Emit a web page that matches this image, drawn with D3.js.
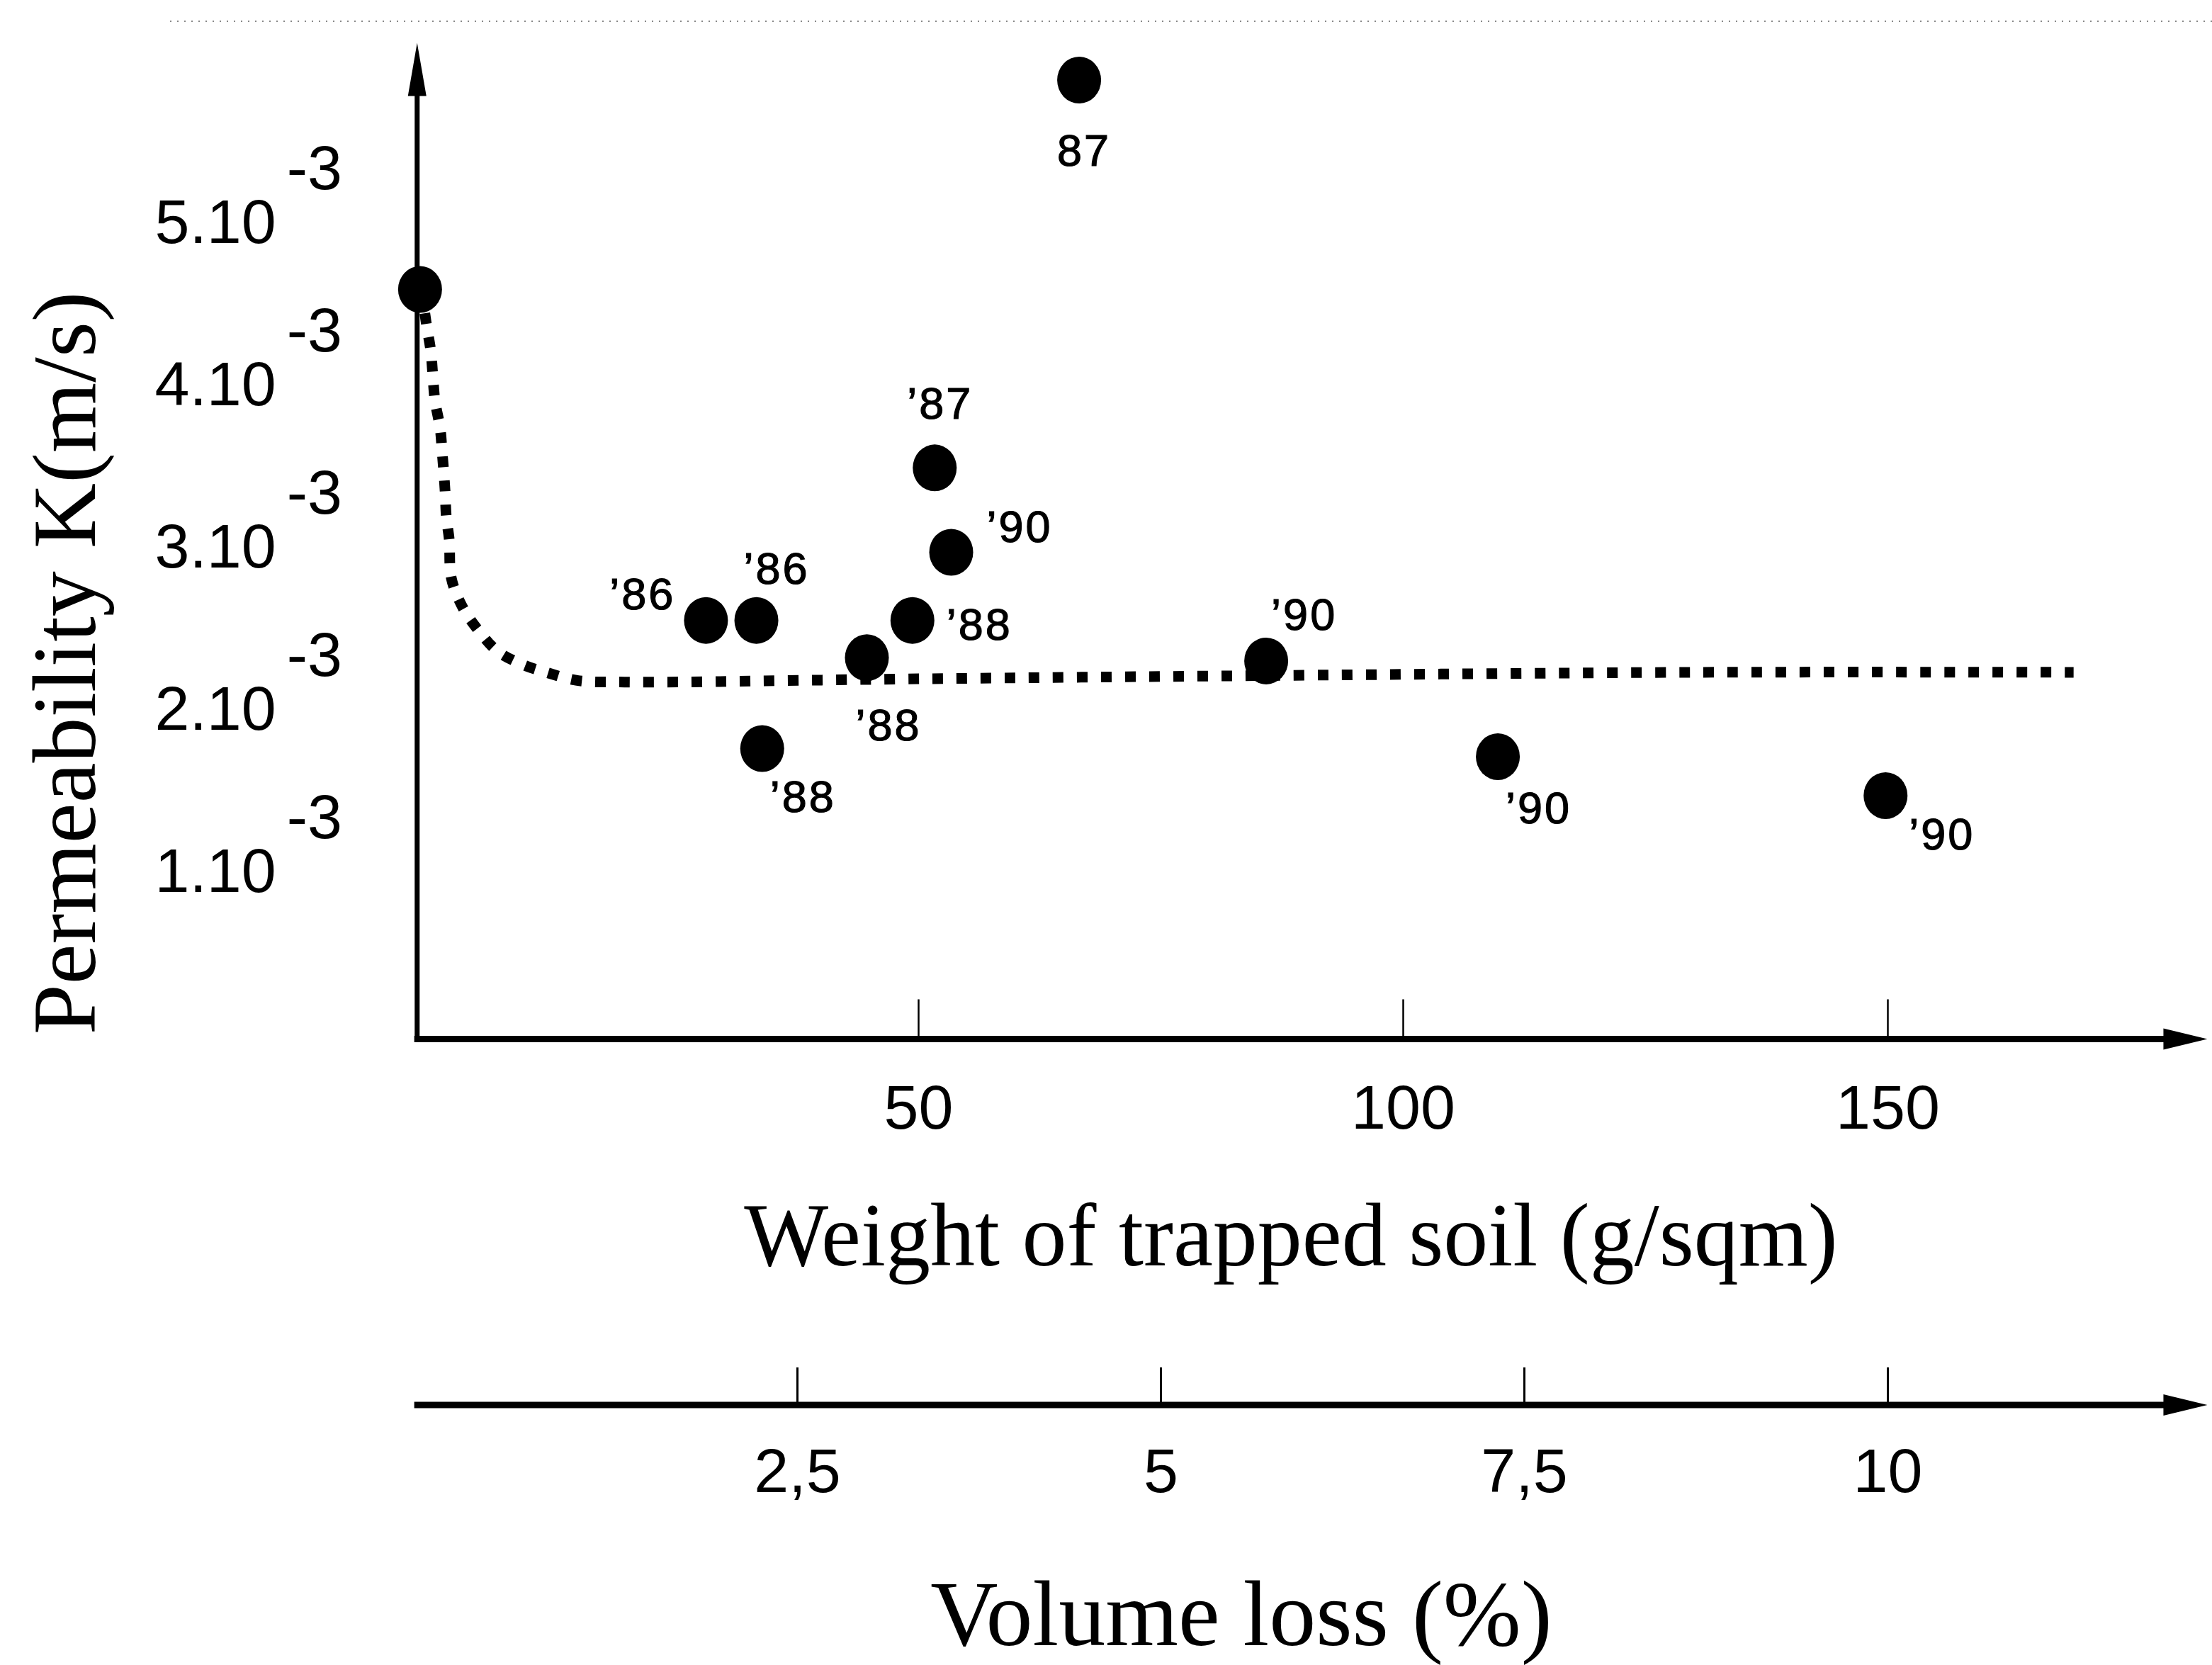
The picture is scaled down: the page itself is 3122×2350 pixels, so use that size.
<!DOCTYPE html>
<html>
<head>
<meta charset="utf-8">
<script src="https://cdn.jsdelivr.net/npm/d3@7"></script>
<style>
  body { margin: 0; background: #fff; }
  svg { display: block; }
</style>
</head>
<body>
<div id="chart"></div>
<script>
var width = 3122;
var height = 2350;

// measured points: weight of trapped soil (g/sqm) vs permeability (x 10^-3 m/s)
var weights = [-1.4, 66.6, 51.7, 53.4, 28.1, 33.3, 49.4, 44.7, 33.9, 85.9, 109.8, 149.8];
var permeability = [4.57, 5.86, 3.47, 2.95, 2.53, 2.53, 2.53, 2.30, 1.74, 2.28, 1.69, 1.45];
var years = ["", "87", "’87", "’90", "’86", "’86", "’88", "’88", "’88", "’90", "’90", "’90"];

// dotted trend curve
var curveWeights = [-1.24, -0.73, -0.29, -0.07, 0.15, 0.66, 0.88, 1.17, 1.32, 1.61, 1.83, 3.0, 4.6, 6.6, 9.1, 11.6, 14.8, 19.7, 50.2, 85.9, 130.6, 169.2];
var curvePerm = [4.57, 4.35, 4.19, 4.03, 3.88, 3.72, 3.57, 3.34, 3.16, 3.03, 2.79, 2.61, 2.47, 2.34, 2.26, 2.21, 2.16, 2.15, 2.17, 2.19, 2.21, 2.21];

var weightTicks = [50, 100, 150];
var permTicks = [1, 2, 3, 4, 5];
var volumeTicks = [2.5, 5, 7.5, 10];

// label offsets from the dot centre: [dx, dy, anchor]
var labelPos = [
  null, [-31, 121, "start"], [-39, -69, "start"], [50, -14, "start"],
  [-43, -16, "end"], [-18, -52, "start"], [48, 27, "start"], [-16, 117, "start"],
  [11, 89, "start"], [7, -44, "start"], [11, 94, "start"], [33, 76, "start"]
];

var sans = "'Liberation Sans', Arial, Helvetica, sans-serif";
var serif = "'Liberation Serif', 'Times New Roman', serif";

var x = d3.scaleLinear().domain([0, 150]).range([612, 2664]);
var y = d3.scaleLinear().domain([0, 5]).range([1455, 310]);
var volY = 1983;
var v = d3.scaleLinear().domain([0, 10]).range([x(0), x(150)]);

var svg = d3.select("#chart")
  .append("svg")
  .attr("width", width)
  .attr("height", height)
  .style("background", "#fff");

// scan artefact at the top of the page
svg.append("line")
  .attr("x1", 240).attr("x2", width)
  .attr("y1", 30).attr("y2", 30)
  .style("stroke", "#888")
  .style("stroke-width", 2)
  .style("stroke-dasharray", "2 8");

var axisX0 = x(-2);
var axisX1 = x(183);
var yAxisX = x(-1.7);
var xAxisY = y(-0.05);
var yTop = y(6.09);

// x ticks + labels
var gx = svg.append("g")
  .attr("transform", "translate(0," + xAxisY + ")")
  .call(d3.axisBottom(x).tickValues(weightTicks).tickSize(-56).tickPadding(64).tickFormat(d3.format("d")));
gx.select(".domain").remove();
gx.selectAll(".tick line").style("stroke", "#000").style("stroke-width", 2.5);
gx.selectAll(".tick text")
  .style("font-family", sans)
  .style("font-size", "88px")
  .style("fill", "#000");

// volume loss axis
var gv = svg.append("g")
  .attr("transform", "translate(0," + volY + ")")
  .call(d3.axisBottom(v).tickValues(volumeTicks).tickSize(-53).tickPadding(61)
    .tickFormat(function (d) { return String(d).replace(".", ","); }));
gv.select(".domain").remove();
gv.selectAll(".tick line").style("stroke", "#000").style("stroke-width", 3);
gv.selectAll(".tick text")
  .style("font-family", sans)
  .style("font-size", "88px")
  .style("fill", "#000");

// y tick labels like 5.10^-3
var gy = svg.append("g")
  .attr("transform", "translate(" + yAxisX + ",0)")
  .call(d3.axisLeft(y).tickValues(permTicks).tickSize(0).tickPadding(199)
    .tickFormat(function (d) { return d + ".10"; }));
gy.select(".domain").remove();
gy.selectAll(".tick text")
  .attr("dy", "0.37em")
  .style("font-family", sans)
  .style("font-size", "88px")
  .style("fill", "#000");
gy.selectAll(".tick").append("text")
  .attr("x", -184)
  .attr("y", -44)
  .attr("text-anchor", "start")
  .style("font-family", sans)
  .style("font-size", "88px")
  .style("fill", "#000")
  .text("-3");

// axis lines with arrows
function arrowAxisH(yy) {
  svg.append("line")
    .attr("x1", axisX0).attr("x2", axisX1 - 40)
    .attr("y1", yy).attr("y2", yy)
    .style("stroke", "#000").style("stroke-width", 9);
  svg.append("path")
    .attr("d", "M" + axisX1 + "," + yy + "L" + (axisX1 - 62) + "," + (yy - 15) +
      "L" + (axisX1 - 62) + "," + (yy + 15) + "Z")
    .style("fill", "#000");
}
arrowAxisH(xAxisY);
arrowAxisH(volY);

svg.append("line")
  .attr("x1", yAxisX).attr("x2", yAxisX)
  .attr("y1", xAxisY + 4).attr("y2", yTop + 50)
  .style("stroke", "#000").style("stroke-width", 7);
svg.append("path")
  .attr("d", "M" + yAxisX + "," + yTop + "L" + (yAxisX - 13) + "," + (yTop + 75) +
    "L" + (yAxisX + 13) + "," + (yTop + 75) + "Z")
  .style("fill", "#000");

// dotted curve
var line = d3.line()
  .x(function (d) { return x(d[0]); })
  .y(function (d) { return y(d[1]); })
  .curve(d3.curveCatmullRom);

svg.append("path")
  .datum(d3.zip(curveWeights, curvePerm))
  .attr("d", line)
  .style("fill", "none")
  .style("stroke", "#000")
  .style("stroke-width", 15)
  .style("stroke-dasharray", "15 19");

// dots
var pts = d3.range(weights.length).map(function (i) {
  return { w: weights[i], k: permeability[i], year: years[i], pos: labelPos[i] };
});

svg.selectAll("ellipse.pt")
  .data(pts)
  .enter()
  .append("ellipse")
  .attr("class", "pt")
  .attr("cx", function (d) { return x(d.w); })
  .attr("cy", function (d) { return y(d.k); })
  .attr("rx", 31)
  .attr("ry", 33)
  .style("fill", "#000");

svg.selectAll("text.yr")
  .data(pts.filter(function (d) { return d.year; }))
  .enter()
  .append("text")
  .attr("class", "yr")
  .attr("x", function (d) { return x(d.w) + d.pos[0]; })
  .attr("y", function (d) { return y(d.k) + d.pos[1]; })
  .attr("text-anchor", function (d) { return d.pos[2]; })
  .style("font-family", sans)
  .style("font-size", "63px")
  .style("letter-spacing", "3px")
  .style("fill", "#000")
  .style("stroke", "#000")
  .style("stroke-width", 1.2)
  .text(function (d) { return d.year; });

// titles
svg.append("text")
  .attr("transform", "translate(134,936) rotate(-90)")
  .attr("text-anchor", "middle")
  .style("font-family", serif)
  .style("font-size", "128px")
  .text("Permeability K(m/s)");

svg.append("text")
  .attr("x", 1822)
  .attr("y", 1786)
  .attr("text-anchor", "middle")
  .style("font-family", serif)
  .style("font-size", "126px")
  .text("Weight of trapped soil (g/sqm)");

svg.append("text")
  .attr("x", 1752)
  .attr("y", 2322)
  .attr("text-anchor", "middle")
  .style("font-family", serif)
  .style("font-size", "132px")
  .text("Volume loss (%)");
</script>
</body>
</html>
